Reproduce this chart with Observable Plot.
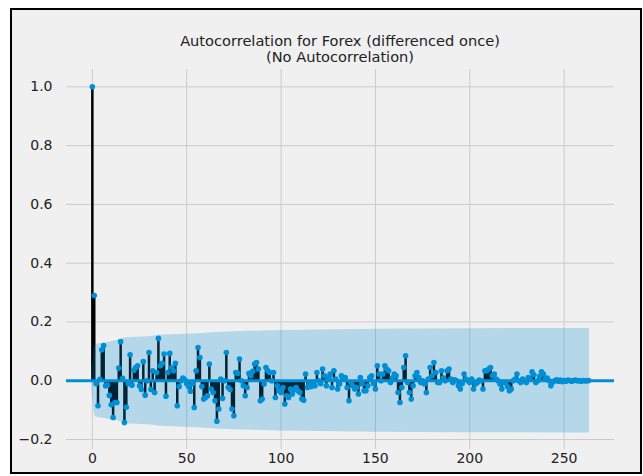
<!DOCTYPE html>
<html><head><meta charset="utf-8">
<script src="https://cdn.jsdelivr.net/npm/d3@7"></script>
<script src="https://cdn.jsdelivr.net/npm/@observablehq/plot@0.6"></script>
<style>
body{margin:0;background:#fff;width:643px;height:476px;overflow:hidden;position:relative;font-family:"DejaVu Sans",sans-serif}
#frame{position:absolute;left:10px;top:8px;width:632px;height:466px;border:2px solid #000;background:#f0f0f0;box-sizing:border-box}
#title{position:absolute;left:66px;width:548px;top:33px;text-align:center;font-size:14.6px;line-height:16px;color:#222}
#chart{position:absolute;left:0;top:0}
</style></head><body>
<div id="frame"></div>
<div id="title">Autocorrelation for Forex (differenced once)<br>(No Autocorrelation)</div>
<div id="chart"></div>
<script>
const acf = [
1.0, 0.29, -0.01, -0.085, 0.005, 0.105, 0.12, -0.017, -0.015, -0.05,
-0.082, -0.125, -0.074, -0.074, 0.043, 0.133, 0.008, -0.142, -0.09, -0.01,
0.088, -0.015, 0.036, 0.045, 0.051, -0.017, -0.03, 0.065, -0.049, 0.0,
0.096, -0.03, 0.034, -0.04, 0.028, 0.144, 0.051, 0.059, 0.091, -0.053,
0.028, 0.093, 0.045, 0.034, 0.059, -0.085, -0.02, 0.0, 0.009, 0.003,
-0.01, -0.02, -0.036, -0.011, -0.091, 0.034, 0.113, 0.079, -0.02, -0.062,
-0.057, -0.051, 0.057, -0.028, -0.04, -0.068, -0.138, -0.096, 0.006, -0.06,
0.0, 0.096, -0.023, -0.03, -0.096, -0.119, 0.028, 0.025, 0.074, 0.0,
-0.017, -0.051, -0.023, 0.025, 0.017, 0.032, 0.057, 0.062, 0.04, -0.068,
-0.062, -0.011, 0.045, 0.034, 0.028, 0.0, 0.028, -0.057, -0.017, -0.034,
-0.04, -0.023, -0.079, -0.051, -0.057, -0.028, -0.045, -0.03, -0.023, -0.034,
-0.04, -0.062, -0.066, 0.023, -0.023, -0.011, -0.02, -0.006, -0.017, 0.028,
0.0, -0.01, 0.04, 0.017, -0.017, 0.011, 0.023, -0.023, 0.034, 0.006,
-0.028, -0.011, 0.017, 0.005, 0.011, -0.023, -0.068, -0.006, -0.017, -0.028,
-0.023, -0.045, 0.011, -0.011, -0.034, -0.034, -0.017, 0.011, 0.017, -0.01,
-0.028, 0.051, 0.023, 0.0, 0.023, 0.051, 0.04, 0.034, -0.006, 0.01,
0.023, 0.017, -0.04, -0.074, -0.023, 0.045, 0.085, -0.006, -0.04, -0.062,
-0.017, 0.017, 0.028, 0.011, -0.006, 0.0, -0.011, -0.04, 0.006, 0.045,
0.017, 0.062, 0.028, -0.006, -0.006, 0.034, 0.01, 0.0, 0.034, 0.04,
0.006, -0.006, 0.003, 0.0, -0.017, -0.028, -0.01, 0.023, 0.006, 0.0,
-0.006, 0.006, -0.028, -0.011, -0.006, 0.002, 0.0, -0.028, 0.034, 0.034,
0.04, 0.045, 0.017, 0.023, 0.006, 0.0, -0.011, -0.028, -0.006, -0.006,
-0.02, -0.034, -0.028, 0.0, 0.006, 0.023, 0.0, -0.006, 0.006, 0.0,
-0.006, 0.011, 0.006, 0.03, 0.02, -0.006, 0.0, 0.014, 0.03, 0.023,
0.006, 0.009, 0.0, -0.017, -0.004, 0.0, 0.003, -0.002, 0.002, -0.003,
0.001, -0.002, 0.002, 0.001, -0.002, 0.001, 0.002, -0.001, 0.001, -0.002,
0.001, 0.0, -0.001, 0.001
];
const bandLag = [-0.5, 1, 2, 5, 10, 15, 17, 20, 30, 36, 56, 66, 75, 100, 150, 200, 263.5];
const bandHi  = [0, 0.115, 0.124, 0.127, 0.133, 0.14, 0.145, 0.147, 0.15, 0.155, 0.16, 0.164, 0.167, 0.171, 0.175, 0.177, 0.178];
const xTicks = [0, 50, 100, 150, 200, 250];
const yTicks = [-0.2, 0.0, 0.2, 0.4, 0.6, 0.8, 1.0];

const data = acf.map((v, i) => ({lag: i, acf: v}));
const band = bandLag.map((l, i) => ({lag: l, hi: bandHi[i], lo: -bandHi[i]}));
const grid = {stroke: "#cbcbcb", strokeOpacity: 1, strokeWidth: 1};

const chart = Plot.plot({
  width: 643, height: 476,
  marginLeft: 66, marginRight: 29, marginTop: 69, marginBottom: 27,
  style: {background: "transparent", fontFamily: "DejaVu Sans, sans-serif", fontSize: "14px", color: "#222", overflow: "visible"},
  x: {domain: [-13.7, 276.7], label: null},
  y: {domain: [-0.234, 1.059], label: null},
  marks: [
    Plot.gridX(xTicks, grid),
    Plot.gridY(yTicks, grid),
    Plot.ruleX(data, {x: "lag", y1: 0, y2: "acf", stroke: "#000", strokeWidth: 2.5}),
    Plot.ruleY([0], {stroke: "#008fd5", strokeWidth: 3}),
    Plot.dot(data, {x: "lag", y: "acf", r: 2.8, fill: "#008fd5", stroke: null}),
    Plot.areaY(band, {x: "lag", y1: "lo", y2: "hi", fill: "#008fd5", fillOpacity: 0.25}),
    Plot.axisX(xTicks, {tickSize: 0, tickPadding: 4, tickFormat: d3.format("d"), fontSize: 14, label: null}),
    Plot.axisY(yTicks, {tickSize: 0, tickPadding: 14, tickFormat: d3.format(".1f"), fontSize: 14, label: null})
  ]
});
document.getElementById("chart").appendChild(chart);
</script>
</body></html>
